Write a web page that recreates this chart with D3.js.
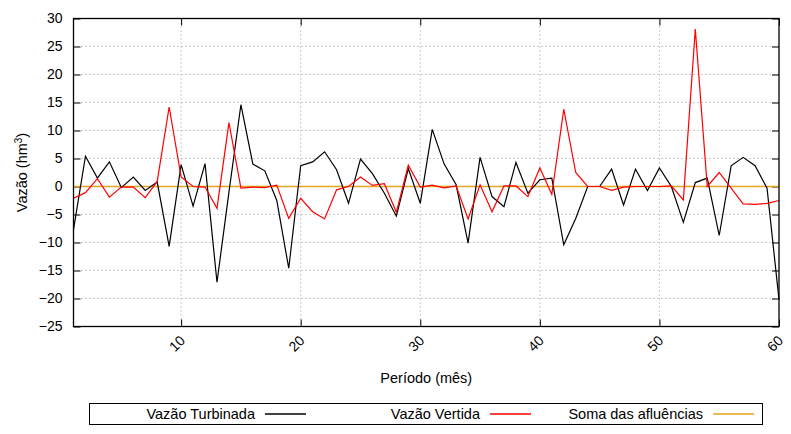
<!DOCTYPE html>
<html><head><meta charset="utf-8">
<script src="https://cdn.jsdelivr.net/npm/d3@7"></script>
<style>
body{margin:0;background:#fff;}
text{font-family:"Liberation Sans",Arial,sans-serif;}
</style></head>
<body><svg id="c" width="791" height="434"></svg>
<script>
const periods = d3.range(1, 61);
const turbinada = [-7.7,5.4,1.5,4.4,-0.2,1.7,-0.7,0.8,-10.7,3.9,-3.5,4.1,-17.1,-1.0,14.6,4.0,2.8,-2.5,-14.6,3.7,
  4.4,6.2,3.0,-3.0,4.9,2.3,-1.2,-5.3,3.2,-3.0,10.2,4.0,0.3,-10.1,5.2,-1.8,-3.6,4.3,-1.2,1.2,
  1.5,-10.4,-5.7,0,0,3.1,-3.3,3.1,-0.7,3.3,0,-6.4,0.7,1.5,-8.75,3.7,5.2,3.7,-0.3,-20.2];
const vertida = [-2.1,-1.1,1.4,-1.9,-0.1,-0.1,-2.0,0.9,14.2,1.7,0,-0.1,-3.9,11.4,-0.3,-0.1,-0.2,0.25,-5.7,-2.1,
  -4.5,-5.8,-0.6,0,1.7,0.2,0.5,-4.6,3.8,-0.1,0.25,-0.25,0.1,-5.8,0.3,-4.5,0.1,0.1,-1.8,3.3,
  -1.4,13.8,2.5,0,0,-0.7,-0.1,0,0,0,0.1,-2.4,28.1,0,2.5,-0.3,-3.1,-3.2,-3.0,-2.5];
const afluencias = periods.map(() => 0);
const xTicks = [10,20,30,40,50,60];
const yTicks = [-25,-20,-15,-10,-5,0,5,10,15,20,25,30];
const seriesNames = ["Vazão Turbinada","Vazão Vertida","Soma das afluências"];
const seriesColors = ["#000000","#ff0000","#e5a619"];

const svg = d3.select("#c");
const L = 73.5, R = 779, T = 18.5, B = 326.5;
const x = d3.scaleLinear().domain([1,60]).range([L,R]);
const y = d3.scaleLinear().domain([-25,30]).range([B,T]);

// grid
const g = svg.append("g");
g.selectAll(".gx").data(xTicks.filter(d=>d<60)).enter().append("line")
  .attr("x1",d=>x(d)).attr("x2",d=>x(d)).attr("y1",T).attr("y2",B)
  .attr("stroke","#999").attr("stroke-width",1).attr("stroke-dasharray","1,3");
g.selectAll(".gy").data(yTicks.filter(d=>d>-25&&d<30)).enter().append("line")
  .attr("x1",L).attr("x2",R).attr("y1",d=>y(d)).attr("y2",d=>y(d))
  .attr("stroke","#999").attr("stroke-width",1).attr("stroke-dasharray","1,3");

// axes
const yAx = d3.axisLeft(y).tickValues(yTicks).tickSize(-7).tickPadding(11);
const yAxR = d3.axisRight(y).tickValues(yTicks).tickSize(-7).tickFormat("");
const xAx = d3.axisBottom(x).tickValues(xTicks).tickSize(-7).tickFormat("");
const xAxT = d3.axisTop(x).tickValues(xTicks).tickSize(-7).tickFormat("");
function style(sel){ sel.select(".domain").remove(); sel.selectAll("line").attr("stroke","#000"); }
svg.append("g").attr("transform",`translate(${L},0)`).call(yAx).call(style)
  .selectAll("text").attr("font-size",14).attr("fill","#000").attr("font-family","Liberation Sans, Arial, sans-serif");
svg.append("g").attr("transform",`translate(${R},0)`).call(yAxR).call(style);
svg.append("g").attr("transform",`translate(0,${B})`).call(xAx).call(style);
svg.append("g").attr("transform",`translate(0,${T})`).call(xAxT).call(style);

// x tick labels rotated
svg.append("g").selectAll("text").data(xTicks).enter().append("text")
  .attr("transform",d=>`translate(${x(d)-2},${B+8}) rotate(-45)`)
  .attr("text-anchor","end").attr("dy","0.7em").attr("font-size",14).text(d=>d);

// lines
const line = d3.line().x((d,i)=>x(periods[i])).y(d=>y(d));
[afluencias, turbinada, vertida].forEach((s,k)=>{
  const idx = [2,0,1][k];
  svg.append("path").datum(s).attr("d",line).attr("fill","none")
    .attr("stroke",seriesColors[idx]).attr("stroke-width", idx===2?1.5:1.2);
});

// border
svg.append("rect").attr("x",L).attr("y",T).attr("width",R-L).attr("height",B-T)
  .attr("fill","none").attr("stroke","#000").attr("stroke-width",1.3);

// axis titles
svg.append("text").attr("x",(L+R)/2).attr("y",383).attr("text-anchor","middle")
  .attr("font-size",14.5).text("Período (mês)");
const yl = svg.append("text").attr("transform",`translate(27,${(T+B)/2}) rotate(-90)`)
  .attr("text-anchor","middle").attr("font-size",14.5);
yl.append("tspan").text("Vazão (hm");
yl.append("tspan").attr("dy",-5).attr("font-size",10).text("3");
yl.append("tspan").attr("dy",5).text(")");

// legend
svg.append("rect").attr("x",89.5).attr("y",403.5).attr("width",673).attr("height",21)
  .attr("fill","#fff").attr("stroke","#000").attr("stroke-width",1);
const legTextEnd = [255,480,703];
const lg = svg.append("g");
seriesNames.forEach((n,i)=>{
  lg.append("text").attr("x",legTextEnd[i]).attr("y",419).attr("text-anchor","end")
    .attr("font-size",14.5).text(n);
  lg.append("line").attr("x1",legTextEnd[i]+10).attr("x2",legTextEnd[i]+51)
    .attr("y1",414).attr("y2",414).attr("stroke",seriesColors[i]).attr("stroke-width",1.3);
});
</script></body></html>
